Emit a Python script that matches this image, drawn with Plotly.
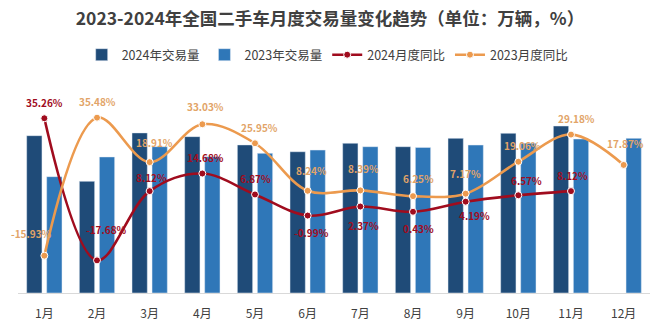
import plotly.graph_objects as go

months = ["1月", "2月", "3月", "4月", "5月", "6月", "7月", "8月", "9月", "10月", "11月", "12月"]
vol_2024 = [159.6, 113.3, 162.4, 158.6, 150.2, 143.3, 151.9, 148.4, 156.9, 162.0, 169.4, None]
vol_2023 = [118.0, 138.0, 148.4, 138.3, 141.7, 145.0, 148.4, 147.7, 150.1, 152.0, 156.2, 156.9]
yoy_2024 = [35.26, -17.68, 8.12, 14.68, 6.87, -0.99, 2.37, 0.43, 4.19, 6.57, 8.12, None]
yoy_2023 = [-15.93, 35.48, 18.91, 33.03, 25.95, 8.24, 8.39, 6.25, 7.17, 19.06, 29.18, 17.87]

# label offsets in pixels (style only)
shift_2024 = [(0, 16), (9, 31), (2, 14), (3, 16), (0, 16), (4, -17), (3, -19), (5, -17), (9, -14), (8, 15), (1, 16)]
shift_2023 = [(-13, 22), (0, 16), (5, 20), (3, 18), (4, 16), (4, 20), (3, 22), (5, 18), (0, 20), (4, 16), (5, 16), (2, 21)]

FONT = "Noto Sans CJK SC"
C24_BAR = "#1F4B78"
C23_BAR = "#2F77B8"
C24_LINE = "#A00C1E"
C23_LINE = "#EC9A4E"
C23_TEXT = "#E2A468"


def fmt(v):
    return f"{v:.2f}%"


fig = go.Figure()
fig.add_trace(go.Bar(x=months, y=vol_2024, name="2024年交易量", marker_color=C24_BAR))
fig.add_trace(go.Bar(x=months, y=vol_2023, name="2023年交易量", marker_color=C23_BAR))
fig.add_trace(go.Scatter(
    x=months, y=yoy_2024, name="2024月度同比", yaxis="y2", mode="lines+markers",
    line=dict(color=C24_LINE, width=2.6, shape="spline", smoothing=1.0),
    marker=dict(size=7, color=C24_LINE, line=dict(color="white", width=1)),
    cliponaxis=False,
))
fig.add_trace(go.Scatter(
    x=months, y=yoy_2023, name="2023月度同比", yaxis="y2", mode="lines+markers",
    line=dict(color=C23_LINE, width=2.6, shape="spline", smoothing=1.0),
    marker=dict(size=7, color=C23_LINE, line=dict(color="white", width=1)),
    cliponaxis=False,
))

annotations = []
for i, v in enumerate(yoy_2024):
    if v is None:
        continue
    dx, dy = shift_2024[i]
    annotations.append(dict(x=months[i], y=v, xref="x", yref="y2", text=fmt(v), showarrow=False,
                            xshift=dx, yshift=dy,
                            font=dict(family=FONT, size=10, color=C24_LINE, weight="bold")))
for i, v in enumerate(yoy_2023):
    dx, dy = shift_2023[i]
    annotations.append(dict(x=months[i], y=v, xref="x", yref="y2", text=fmt(v), showarrow=False,
                            xshift=dx, yshift=dy,
                            font=dict(family=FONT, size=10, color=C23_TEXT, weight="bold")))

fig.update_layout(
    width=660, height=336,
    margin=dict(l=18, r=10, t=70, b=43, autoexpand=False),
    paper_bgcolor="white", plot_bgcolor="white",
    font=dict(family=FONT, color="#404040"),
    title=dict(text="<b>2023-2024年全国二手车月度交易量变化趋势（单位：万辆，%）</b>",
               x=0.5, xanchor="center", y=0.943, yanchor="middle",
               font=dict(family=FONT, size=17.5, color="#404040")),
    barmode="group", bargap=0.24, bargroupgap=0.235,
    showlegend=True,
    legend=dict(orientation="h", x=0.49, xanchor="center", y=1.067, yanchor="middle",
                font=dict(family=FONT, size=12.5, color="#404040"), traceorder="normal",
                bgcolor="rgba(0,0,0,0)"),
    xaxis=dict(showgrid=False, showline=True, linecolor="#D9D9D9", linewidth=1,
               range=[-0.5, 11.5], automargin=False,
               ticks="", ticklabelstandoff=10,
               tickfont=dict(family=FONT, size=12, color="#404040")),
    yaxis=dict(range=[0, 226.2], visible=False, showgrid=False),
    yaxis2=dict(range=[-29.84, 53.24], overlaying="y", visible=False, showgrid=False),
    annotations=annotations,
)

fig.write_html("out.html")
